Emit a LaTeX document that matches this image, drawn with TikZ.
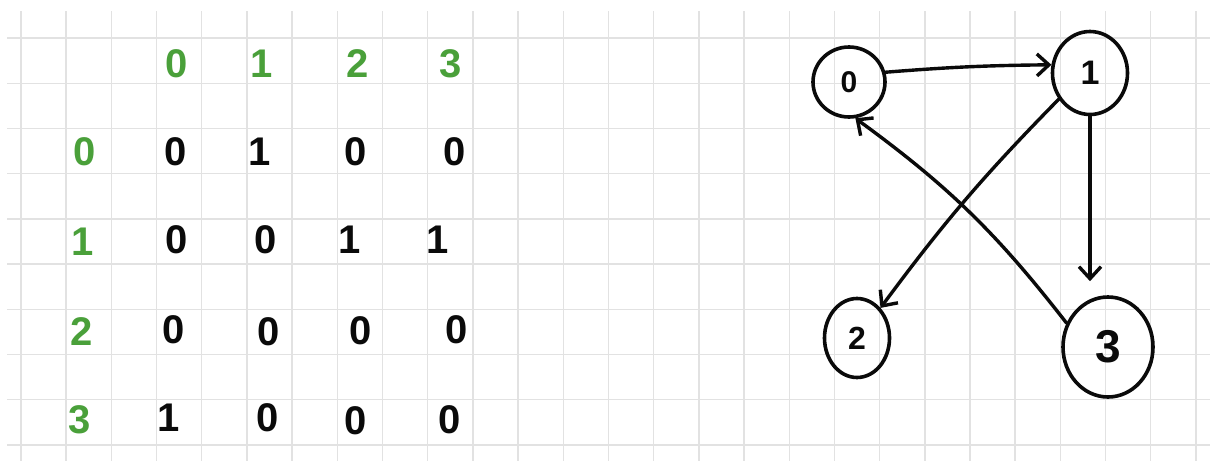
\documentclass[tikz,border=0pt]{standalone}
\usepackage{fontspec}
\setmainfont{Liberation Sans}
\usetikzlibrary{arrows.meta,shapes.geometric}
\definecolor{gridgray}{RGB}{226,226,226}
\definecolor{mkgreen}{RGB}{74,160,58}
\definecolor{ink}{RGB}{10,10,10}
\tikzset{
  gridline/.style={draw=gridgray,line width=1.4pt},
  hdr/.style={text=mkgreen,inner sep=0pt,font=\fontsize{40}{40}\selectfont\bfseries},
  cell/.style={text=ink,inner sep=0pt,font=\fontsize{40}{40}\selectfont\bfseries},
  vertex/.style={ellipse,draw=ink,line width=3.6pt,inner sep=0pt,text=ink},
  edge/.style={draw=ink,line width=3.4pt,line cap=round,-{Straight Barb[length=12pt,width=22pt,line width=3.4pt]}}
}
\begin{document}
\begin{tikzpicture}[x=1pt,y=-1pt]
\useasboundingbox[fill=white] (0,0) rectangle (1210,461);
% grid paper
\foreach \k in {0,...,26} \draw[gridline] ({21+45.19*\k},11) -- ({21+45.19*\k},461);
\foreach \k in {0,...,9} \draw[gridline] (7,{38+45.2*\k}) -- (1210,{38+45.2*\k});
% column headers
\node[hdr] (c0) at (177,64) {0};
\node[hdr] (c1) at (262,64) {1};
\node[hdr] (c2) at (358,64) {2};
\node[hdr] (c3) at (451,64) {3};
% row headers
\node[hdr] (r0) at (85,152) {0};
\node[hdr] (r1) at (83,242) {1};
\node[hdr] (r2) at (82,332) {2};
\node[hdr] (r3) at (80,420) {3};
% matrix
\node[cell] (m00) at (176,152) {0};
\node[cell] (m01) at (260,152) {1};
\node[cell] (m02) at (356,152) {0};
\node[cell] (m03) at (455,152) {0};
\node[cell] (m10) at (177,240) {0};
\node[cell] (m11) at (266,240) {0};
\node[cell] (m12) at (350,240) {1};
\node[cell] (m13) at (438,240) {1};
\node[cell] (m20) at (174,330) {0};
\node[cell] (m21) at (269,332) {0};
\node[cell] (m22) at (361,331) {0};
\node[cell] (m23) at (457,330) {0};
\node[cell] (m30) at (169,418) {1};
\node[cell] (m31) at (268,418) {0};
\node[cell] (m32) at (356,421) {0};
\node[cell] (m33) at (450,420) {0};
% graph
\node[vertex,minimum width=72pt,minimum height=70pt,font=\fontsize{30}{30}\selectfont\bfseries] (n0) at (849,82) {0};
\node[vertex,minimum width=75pt,minimum height=83pt,font=\fontsize{34}{34}\selectfont\bfseries] (n1) at (1090,73) {1};
\node[vertex,minimum width=65pt,minimum height=79pt,font=\fontsize{32}{32}\selectfont\bfseries] (n2) at (857,338) {2};
\node[vertex,minimum width=90pt,minimum height=100pt,font=\fontsize{46}{46}\selectfont\bfseries] (n3) at (1108,347) {3};
\draw[edge] (n0.15) to[bend left=2] (n1.168);
\draw[edge,shorten >=14pt] (n1.south) -- (n1.south |- n3.north);
\draw[edge] (n1.-140) to[bend right=4] (n2.52);
\draw[edge] (n3.150) to[bend right=8] (n0.-80);
\end{tikzpicture}
\end{document}
